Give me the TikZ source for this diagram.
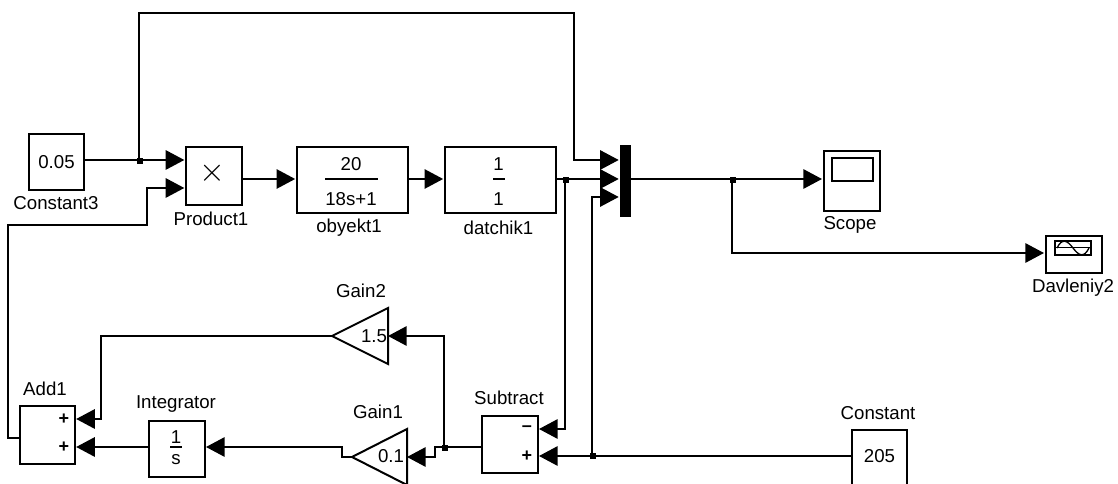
\documentclass[tikz,border=0pt]{standalone}
\usepackage{fontspec}
\setmainfont{Liberation Sans}
\usetikzlibrary{arrows.meta,calc}
\tikzset{
 x=0.75pt,y=-0.75pt,
 block/.style={draw=black,line width=1.5pt,fill=white,inner sep=0pt,font=\fontsize{14}{16}\selectfont},
 lbl/.style={inner sep=0pt,font=\fontsize{14}{16}\selectfont},
 signlbl/.style={inner sep=0pt,font=\fontsize{13.5}{15}\bfseries\selectfont},
 wire/.style={line width=1.5pt,-{Triangle[length=14pt,width=14.5pt]},shorten >=0.75pt},
 lwire/.style={wire,shorten >=0pt},
 plain/.style={line width=1.5pt},
 dotj/.style={fill=black,draw=none,minimum size=4pt,inner sep=0pt},
 gainb/.style={draw=black,line width=1.5pt,fill=white,line join=miter},
 pt/.style={inner sep=0pt,minimum size=0pt,outer sep=0pt},
}
\begin{document}
\begin{tikzpicture}
\useasboundingbox (0,0) rectangle (1118,484);
\clip (0,0) rectangle (1118,484);
% blocks
\node[block,minimum width=41pt,minimum height=42pt] (c3) at (56.5,162) {0.05};
\node[block,minimum width=41.5pt,minimum height=43pt] (p1) at (214,176) {};
\node[lbl,font=\fontsize{24}{24}\selectfont] at (212,173) {$\times$};
\node[block,minimum width=83pt,minimum height=49.5pt] (ob) at (352.5,180) {};
\node[block,minimum width=83pt,minimum height=49.5pt] (da) at (500.5,180) {};
\node[fill=black,draw=none,minimum width=8.25pt,minimum height=54pt,inner sep=0pt] (mux) at (625.5,181) {};
\node[block,minimum width=42pt,minimum height=45pt] (sc) at (852,181) {};
\node[block,minimum width=42pt,minimum height=28pt] (dv) at (1074,254.5) {};
\node[block,minimum width=41.5pt,minimum height=43.5pt] (add) at (47.5,435) {};
\node[block,minimum width=42pt,minimum height=42pt] (int) at (177,449) {};
\node[block,minimum width=42pt,minimum height=43pt] (sub) at (510,444.5) {};
\node[block,minimum width=41pt,minimum height=57pt] (con) at (879.5,468) {};
\node[lbl] at (879.5,456) {205};
% gains
\node[pt] (g2) at (332,336) {};
\node[pt] (g2r) at (388,336) {};
\node[pt] (g1) at (352,457) {};
\node[pt] (g1r) at (407,457) {};
\draw[gainb] (g2) -- (388,308) -- (388,364) -- cycle;
\draw[gainb] (g1) -- (407,429) -- (407,485) -- cycle;
% block contents
\node[lbl] at (351,164) {20};
\draw[plain] (325,179) -- (378,179);
\node[lbl] at (351,199) {18s+1};
\node[lbl] at (498.5,164) {1};
\draw[plain] (493,179) -- (505,179);
\node[lbl] at (498.5,199) {1};
\node[lbl] at (176,437) {1};
\draw[plain] (170,447) -- (182,447);
\node[lbl] at (176,460) {s};
\node[lbl] at (374,336) {1.5};
\node[lbl] at (391,456) {0.1};
\node[signlbl] at (64,419) {+};
\node[signlbl] at (64,447) {+};
\node[signlbl] at (527,429) {–};
\node[signlbl] at (527,456) {+};
\draw[line width=1.5pt] (832,158) rectangle (873,181);
\draw[line width=1.2pt] (1055,241) rectangle (1091,255);
\draw[line width=0.75pt] (1055,248) -- (1091,248);
\draw[line width=1pt] (1057,248) .. controls (1062,238) and (1067,240) .. (1073,248) .. controls (1079,256) and (1084,258) .. (1089,248);
% labels
\node[lbl] at (56,203) {Constant3};
\node[lbl] at (211,219) {Product1};
\node[lbl] at (349,228) {obyekt1};
\node[lbl] at (498.5,228) {datchik1};
\node[lbl] at (850,225) {Scope};
\node[lbl] at (1073,288) {Davleniy2};
\node[lbl] at (361,291) {Gain2};
\node[lbl] at (378,412) {Gain1};
\node[lbl] at (509,398) {Subtract};
\node[lbl] at (45,389) {Add1};
\node[lbl] at (176,404) {Integrator};
\node[lbl] at (878,413) {Constant};
% ports and junctions
\coordinate (c3o) at (c3.east|-0,160);
\coordinate (p1a) at (p1.west|-0,160);
\coordinate (p1b) at (p1.west|-0,188);
\coordinate (p1o) at (p1.east|-0,179);
\coordinate (obi) at (ob.west|-0,179);
\coordinate (obo) at (ob.east|-0,179);
\coordinate (dai) at (da.west|-0,179);
\coordinate (dao) at (da.east|-0,179);
\coordinate (mxa) at (mux.west|-0,160);
\coordinate (mxb) at (mux.west|-0,179);
\coordinate (mxc) at (mux.west|-0,197);
\coordinate (mxo) at (mux.east|-0,179);
\coordinate (sci) at (sc.west|-0,179);
\coordinate (adda) at (add.east|-0,419);
\coordinate (addb) at (add.east|-0,447);
\coordinate (addo) at (add.west|-0,438);
\coordinate (suba) at (sub.east|-0,429);
\coordinate (subb) at (sub.east|-0,456);
\coordinate (subo) at (sub.west|-0,447);
\coordinate (inte) at (int.east|-0,447);
\coordinate (intw) at (int.west|-0,447);
\coordinate (j1) at (139,160);
\coordinate (j2) at (565,179);
\coordinate (j3) at (592,456);
\coordinate (j4) at (732,179);
\coordinate (j5) at (444,447);
\coordinate (coni) at (con.west|-0,456);
\coordinate (dvi) at (dv.west|-0,253);
% connectors
\draw[wire] (c3o) -- (p1a);
\draw[wire] (j1) -- (139,13) -- (574,13) -- (574,160) -- (mxa);
\draw[wire] (addo) -- (8,438) -- (8,225) -- (147,225) -- (147,188) -- (p1b);
\draw[wire] (p1o) -- (obi);
\draw[wire] (obo) -- (dai);
\draw[wire] (dao) -- (mxb);
\draw[lwire] (j2) -- (565,429) -- (suba);
\draw[lwire] (coni) -- (subb);
\draw[wire] (j3) -- (592,197) -- (mxc);
\draw[wire] (mxo) -- (sci);
\draw[wire] (j4) -- (732,253) -- (dvi);
\draw[lwire] (subo) -- (j5) -- (444,336) -- (g2r);
\draw[lwire] (j5) -- (435,447) -- (435,457) -- (g1r);
\draw[lwire] (g1) -- (342,457) -- (342,447) -- (inte);
\draw[lwire] (intw) -- (addb);
\draw[lwire] (g2) -- (101,336) -- (101,419) -- (adda);
% junction dots
\node[dotj] (d1) at (140,161) {};
\node[dotj] (d2) at (566,180) {};
\node[dotj] (d3) at (593,456) {};
\node[dotj] (d4) at (733,180) {};
\node[dotj] (d5) at (445,448) {};
\end{tikzpicture}
\end{document}
